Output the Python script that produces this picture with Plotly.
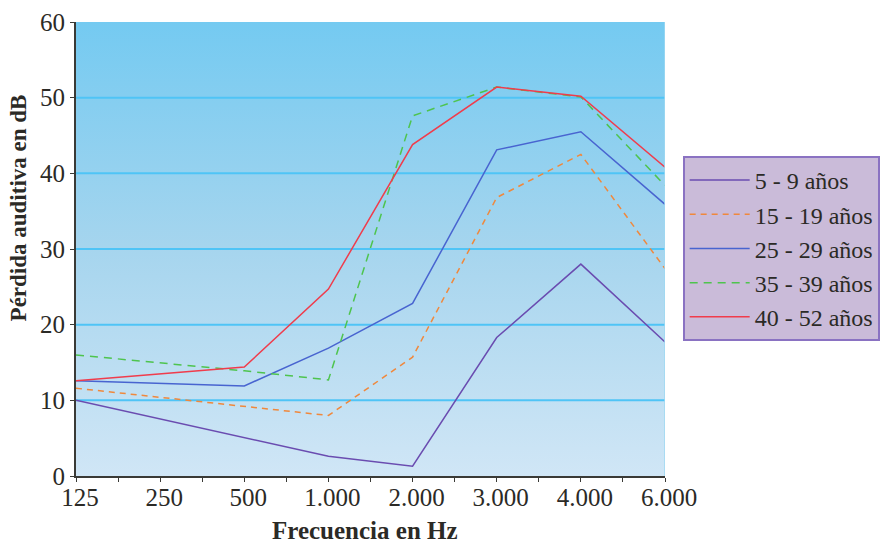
import plotly.graph_objects as go

categorias = ["125", "250", "500", "1.000", "2.000", "3.000", "4.000", "6.000"]
# positions with data (250 Hz has no measurement)
frec_idx = [0, 2, 3, 4, 5, 6, 7]

serie_5_9 = [10.0, 5.0, 2.6, 1.3, 18.3, 28.0, 17.7]
serie_15_19 = [11.6, 9.2, 8.0, 15.7, 36.8, 42.5, 27.4]
serie_25_29 = [12.6, 11.9, 16.9, 22.8, 43.1, 45.5, 35.9]
serie_35_39 = [16.0, 13.9, 12.7, 47.6, 51.4, 50.1, 38.4]
serie_40_52 = [12.6, 14.4, 24.7, 43.8, 51.4, 50.2, 40.8]

nombres = ["5 - 9 años", "15 - 19 años", "25 - 29 años", "35 - 39 años", "40 - 52 años"]
series = [serie_5_9, serie_15_19, serie_25_29, serie_35_39, serie_40_52]
colores = ["#6a4cb0", "#f0883c", "#4864d0", "#4ec44e", "#f03c4c"]
estilos = ["solid", "6px,5px", "solid", "8px,6px", "solid"]

titulo_x = "Frecuencia en Hz"
titulo_y = "Pérdida auditiva en dB"

FONT = "Liberation Serif, Times New Roman, serif"
TXT = "#2b2a26"

fig = go.Figure()

# gradient plot background
fig.add_trace(go.Scatter(
    x=[0, 7, 7, 0, 0], y=[0, 0, 60, 60, 0], mode="lines",
    line=dict(width=0), fill="toself",
    fillgradient=dict(type="vertical",
                      colorscale=[[0, "#d0e6f6"], [0.5, "#a6d5ee"], [1, "#74caf1"]]),
    hoverinfo="skip", showlegend=False))

# grid lines
for g in [10, 20, 30, 40, 50]:
    fig.add_trace(go.Scatter(x=[0, 7], y=[g, g], mode="lines",
                             line=dict(color="#4fc4f6", width=2),
                             hoverinfo="skip", showlegend=False))

for n, s, c, d in zip(nombres, series, colores, estilos):
    fig.add_trace(go.Scatter(x=frec_idx, y=s, mode="lines", name=n,
                             legendgroup=n,
                             line=dict(color=c, width=1.5, dash=d)))

fig.add_shape(type="line", xref="x", yref="y", x0=7, x1=7, y0=0, y1=60,
              line=dict(color="#9ed8f2", width=1.5))

fig.add_annotation(text="<b>%s</b>" % titulo_x, xref="paper", yref="paper",
                   x=0.491, y=-0.121, xanchor="center", yanchor="middle",
                   showarrow=False, font=dict(family=FONT, size=25, color=TXT))
fig.add_annotation(text="<b>%s</b>" % titulo_y, xref="paper", yref="paper",
                   x=-0.098, y=0.59, xanchor="center", yanchor="middle",
                   textangle=-90,
                   showarrow=False, font=dict(family=FONT, size=23, color=TXT))

fig.update_layout(
    width=883, height=543,
    margin=dict(l=76, r=218, t=22, b=67, autoexpand=False),
    paper_bgcolor="white", plot_bgcolor="white",
    font=dict(family=FONT, color=TXT, size=25),
    showlegend=True,
    legend=dict(x=1.03, y=0.705, xanchor="left", yanchor="top",
                bgcolor="#cabbd9", bordercolor="#8a72c2", borderwidth=2,
                font=dict(family=FONT, size=24, color=TXT),
                tracegroupgap=0, itemwidth=60),
    xaxis=dict(range=[0, 7], tickvals=list(range(8)), ticktext=categorias,
               automargin=False,
               showgrid=False, zeroline=False, showline=True,
               linecolor="#3a3a36", linewidth=2,
               ticks="outside", ticklen=4, tickcolor="#3a3a36",
               minor=dict(dtick=0.5, ticks="outside", ticklen=4, tickcolor="#3a3a36"),
               ticklabelstandoff=-6, ticklabelshift=4,
               tickfont=dict(family=FONT, size=25, color=TXT)),
    yaxis=dict(range=[0, 60], tickvals=[0, 10, 20, 30, 40, 50, 60],
               automargin=False,
               showgrid=False, zeroline=False, showline=True,
               linecolor="#3a3a36", linewidth=2,
               ticks="outside", ticklen=4, tickcolor="#3a3a36",
               tickfont=dict(family=FONT, size=25, color=TXT)),
)

fig.write_html("out.html", config={"displayModeBar": False},
               post_script="document.body.style.margin='0';document.body.style.overflow='hidden';")
